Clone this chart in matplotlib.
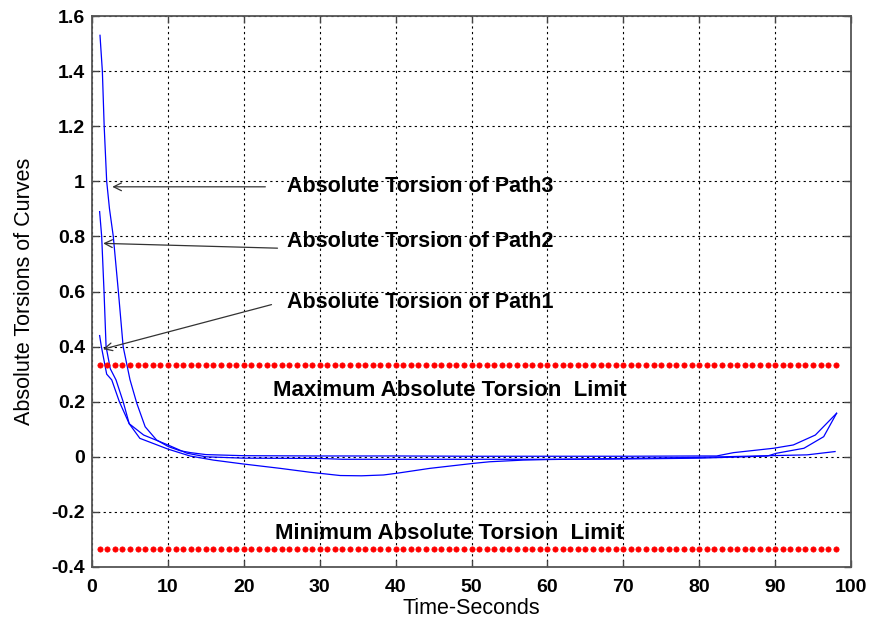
import numpy as np
import matplotlib
matplotlib.use("Agg")
import matplotlib.pyplot as plt

plt.rcParams["font.family"] = ["Liberation Sans", "DejaVu Sans"]

# values
t_path3 = [1.05, 1.36, 1.6, 1.93, 2.3, 2.8, 3.47, 4.1, 5.0, 5.9, 7.0, 8.5,
           10.05, 11.6, 13, 15, 20, 30, 40, 50, 60, 70, 80, 82.3, 84.5,
           89.8, 92.4, 95.3, 98.1]
y_path3 = [1.53, 1.40, 1.20, 1.00, 0.90, 0.80, 0.60, 0.40, 0.28, 0.194,
           0.109, 0.061, 0.037, 0.022, 0.015, 0.008, 0.004, 0.003, 0.003,
           0.002, 0.002, 0.002, 0.003, 0.003, 0.015, 0.031, 0.043, 0.079,
           0.158]

t_path2 = [1.0, 1.27, 1.58, 1.85, 2.4, 3.16, 4.1, 4.9, 6.3, 10, 12.9, 16,
           19.9, 24.8, 28.7, 32.7, 35.5, 38.4, 40.1, 44.5, 50.2, 52.4, 56.8,
           60, 70, 80, 87.6, 94.2, 97.9]
y_path2 = [0.89, 0.80, 0.60, 0.40, 0.32, 0.279, 0.20, 0.12, 0.067, 0.028,
           0.003, -0.012, -0.026, -0.042, -0.056, -0.068, -0.069, -0.066,
           -0.060, -0.042, -0.024, -0.018, -0.012, -0.010, -0.006, -0.002,
           0.003, 0.007, 0.019]

t_path1 = [1.0, 1.23, 1.93, 2.6, 3.6, 4.9, 6.8, 10, 12.5, 15, 20, 30, 33,
           40, 50, 60, 70, 80, 86, 89, 90.2, 93.8, 96.4, 98.1]
y_path1 = [0.44, 0.40, 0.30, 0.279, 0.20, 0.12, 0.079, 0.043, 0.013, 0.0,
           -0.005, -0.006, -0.009, -0.009, -0.009, -0.009, -0.008, -0.005,
           0.0, 0.003, 0.013, 0.031, 0.073, 0.158]

t_limit = list(range(1, 99))
max_limit = 1 / 3
min_limit = -1 / 3

fig = plt.figure(figsize=(8.74, 6.23), dpi=100)
ax = fig.add_axes([0.1053, 0.0899, 0.8684, 0.8844])

for t, y in [(t_path1, y_path1), (t_path2, y_path2), (t_path3, y_path3)]:
    ax.plot(t, y, color="blue", lw=0.9)

ax.plot(t_limit, [max_limit] * len(t_limit), "o", color="red", ms=3.8,
        mec="red", mew=0.5)
ax.plot(t_limit, [min_limit] * len(t_limit), "o", color="red", ms=3.8,
        mec="red", mew=0.5)

ax.set_xlim(0, 100)
ax.set_ylim(-0.4, 1.6)
ax.set_xticks(np.arange(0, 101, 10))
ax.set_yticks(np.round(np.arange(-0.4, 1.61, 0.2), 1))
ax.set_yticklabels(["-0.4", "-0.2", "0", "0.2", "0.4", "0.6", "0.8", "1",
                    "1.2", "1.4", "1.6"])
ax.grid(True, color="black", ls=(0, (2, 3)), lw=0.8)
ax.tick_params(direction="in", top=True, right=True, length=5,
               labelsize=14, width=1, colors="#444444", labelcolor="black")
ax.tick_params(axis="x", pad=9)
ax.tick_params(axis="y", pad=5)
for lab in ax.get_xticklabels() + ax.get_yticklabels():
    lab.set_fontweight("bold")
for s in ax.spines.values():
    s.set_color("#555555")
    s.set_linewidth(1.3)

ax.set_xlabel("Time-Seconds", fontsize=15.5, labelpad=1)
ax.set_ylabel("Absolute Torsions of Curves", fontsize=15.5, labelpad=12)

arrow = dict(arrowstyle="->", color="#333333", lw=0.9, mutation_scale=14)
txt = dict(fontsize=15.5, fontweight="bold", va="center", ha="left")
ax.annotate("", xy=(2.3, 0.98), xytext=(23.2, 0.98), arrowprops=arrow)
ax.text(25.7, 0.98, "Absolute Torsion of Path3", **txt)
ax.annotate("", xy=(1.1, 0.775), xytext=(24.8, 0.757), arrowprops=arrow)
ax.text(25.7, 0.782, "Absolute Torsion of Path2", **txt)
ax.annotate("", xy=(1.1, 0.388), xytext=(24.0, 0.555), arrowprops=arrow)
ax.text(25.7, 0.56, "Absolute Torsion of Path1", **txt)

ax.text(23.9, 0.24, "Maximum Absolute Torsion  Limit", fontsize=16,
        fontweight="bold", va="center", ha="left")
ax.text(24.1, -0.28, "Minimum Absolute Torsion  Limit", fontsize=16,
        fontweight="bold", va="center", ha="left")

fig.savefig("out.png", dpi=100)
